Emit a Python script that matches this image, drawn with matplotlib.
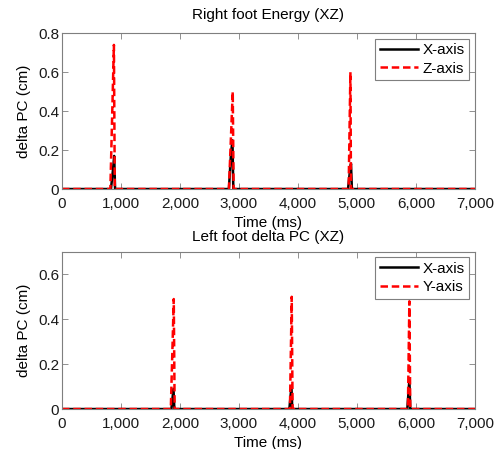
import matplotlib.pyplot as plt
from matplotlib.ticker import FixedLocator

plt.rcParams['font.family'] = ['Liberation Sans', 'DejaVu Sans']
plt.rcParams['font.size'] = 11

# top panel: right foot
top_title = "Right foot Energy (XZ)"
top_x_time = [0, 830, 865, 885, 900, 2830, 2865, 2890, 2905, 4850, 4885, 4900, 4915, 7000]
top_x_vals = [0, 0, 0.10, 0.17, 0, 0, 0.18, 0.25, 0, 0, 0.10, 0.13, 0, 0]
top_z_time = [0, 820, 880, 895, 2830, 2895, 2910, 4860, 4890, 4900, 7000]
top_z_vals = [0, 0, 0.74, 0, 0, 0.50, 0, 0, 0.60, 0, 0]
top_labels = ["X-axis", "Z-axis"]

# bottom panel: left foot
bot_x_time = [0, 1855, 1890, 1905, 3855, 3890, 3905, 5855, 5890, 5905, 7000]
bot_x_vals = [0, 0, 0.09, 0, 0, 0.10, 0, 0, 0.13, 0, 0]
bot_y_time = [0, 1845, 1895, 1910, 3865, 3895, 3910, 5865, 5890, 5905, 7000]
bot_y_vals = [0, 0, 0.49, 0, 0, 0.50, 0, 0, 0.48, 0, 0]
bot_title = "Left foot delta PC (XZ)"
bot_labels = ["X-axis", "Y-axis"]

x_ticks = [0, 1000, 2000, 3000, 4000, 5000, 6000, 7000]
x_tick_labels = ["0", "1,000", "2,000", "3,000", "4,000", "5,000", "6,000", "7,000"]
top_y_ticks = [0, 0.2, 0.4, 0.6, 0.8]
top_y_labels = ["0", "0.2", "0.4", "0.6", "0.8"]
bot_y_ticks = [0, 0.2, 0.4, 0.6]
bot_y_labels = ["0", "0.2", "0.4", "0.6"]

fig = plt.figure(figsize=(4.98, 4.49), dpi=100)
ax1 = fig.add_axes([0.1245, 0.579, 0.829, 0.347])
ax2 = fig.add_axes([0.1245, 0.089, 0.829, 0.350])

frame_col = "#7f7f7f"


def style_axes(ax, yticks, ylabels, ymax, title, title_pad):
    ax.set_xlim(0, 7000)
    ax.set_ylim(0, ymax)
    ax.xaxis.set_major_locator(FixedLocator(x_ticks))
    ax.set_xticklabels(x_tick_labels)
    ax.yaxis.set_major_locator(FixedLocator(yticks))
    ax.set_yticklabels(ylabels)
    ax.tick_params(direction="in", top=True, right=True, length=4.5, width=0.6,
                   color=frame_col, labelsize=11, labelcolor="#1a1a1a", pad=2)
    ax.tick_params(axis="x", pad=6)
    for sp in ax.spines.values():
        sp.set_color(frame_col)
        sp.set_linewidth(0.8)
    ax.set_xlabel("Time (ms)", fontsize=11, labelpad=3)
    ax.set_ylabel("delta PC (cm)", fontsize=11, labelpad=5)
    ax.set_title(title, fontsize=11, pad=title_pad)


ax1.plot(top_x_time, top_x_vals, color="black", lw=1.8, label=top_labels[0])
ax1.plot(top_z_time, top_z_vals, color="red", lw=1.8, ls=(0, (3, 1.5)), label=top_labels[1])
style_axes(ax1, top_y_ticks, top_y_labels, 0.8, top_title, 10)

ax2.plot(bot_x_time, bot_x_vals, color="black", lw=1.8, label=bot_labels[0])
ax2.plot(bot_y_time, bot_y_vals, color="red", lw=1.8, ls=(0, (3, 1.5)), label=bot_labels[1])
style_axes(ax2, bot_y_ticks, bot_y_labels, 0.7, bot_title, 8)

for ax in (ax1, ax2):
    leg = ax.legend(loc="upper right", fontsize=11, fancybox=False, framealpha=1,
                    edgecolor=frame_col, handlelength=2.5, borderaxespad=0.35,
                    handletextpad=0.3, labelspacing=0.3, borderpad=0.3)
    leg.get_frame().set_linewidth(0.8)

fig.savefig("out.png", dpi=100)
